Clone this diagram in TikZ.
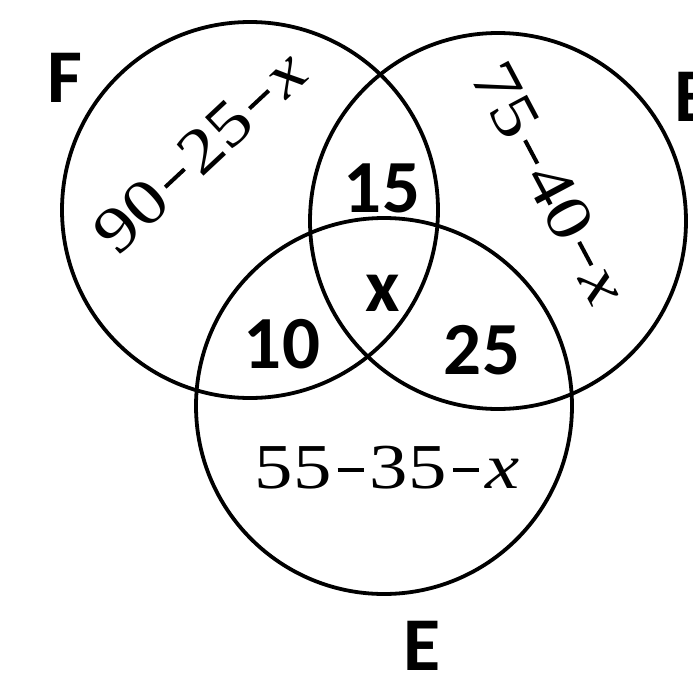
\documentclass[tikz,border=0pt]{standalone}
\usepackage{fontspec}
\usepackage{graphicx}
\newfontfamily\labfont{Carlito}
\newfontfamily\exprfont{Liberation Serif}
\newcommand{\vennminus}{\kern5pt\rule[17pt]{22pt}{4pt}\kern5pt}
\begin{document}
\begin{tikzpicture}[x=1pt,y=-1pt,
  setc/.style={circle, draw, line width=3.8pt, inner sep=0pt, minimum size=376pt},
  lab/.style={font=\labfont\bfseries\fontsize{76}{76}\selectfont, inner sep=0pt},
  num/.style={font=\labfont\bfseries\fontsize{75}{75}\selectfont, inner sep=0pt},
  expr/.style={font=\exprfont\fontsize{64}{64}\selectfont, inner sep=0pt}]
\useasboundingbox (0,0) rectangle (693,677);
\clip (0,0) rectangle (693,677);
\node[setc] (F) at (250,210) {};
\node[setc] (B) at (498,221) {};
\node[setc] (E) at (384,406) {};
\node[lab] (lF) at (65,78) {F};
\node[lab] (lB) at (696,97) {B};
\node[lab] (lE) at (422,646) {E};
\node[num] (n15) at (382,188) {15};
\node[num] (nx) at (383,293) {x};
\node[num] (n10) at (282,344) {10};
\node[num] (n25) at (482,350) {25};
\node[expr] (eE) at (387,468) {\scalebox{1.2}[1]{55\vennminus35\vennminus\textit{x}}};
\node[expr, rotate=43] (eF) at (200,152) {\scalebox{1.2}[1]{90\vennminus25\vennminus\textit{x}}};
\node[expr, rotate=-62] (eB) at (550,183) {\scalebox{1.2}[1]{75\vennminus40\vennminus\textit{x}}};
\end{tikzpicture}
\end{document}
